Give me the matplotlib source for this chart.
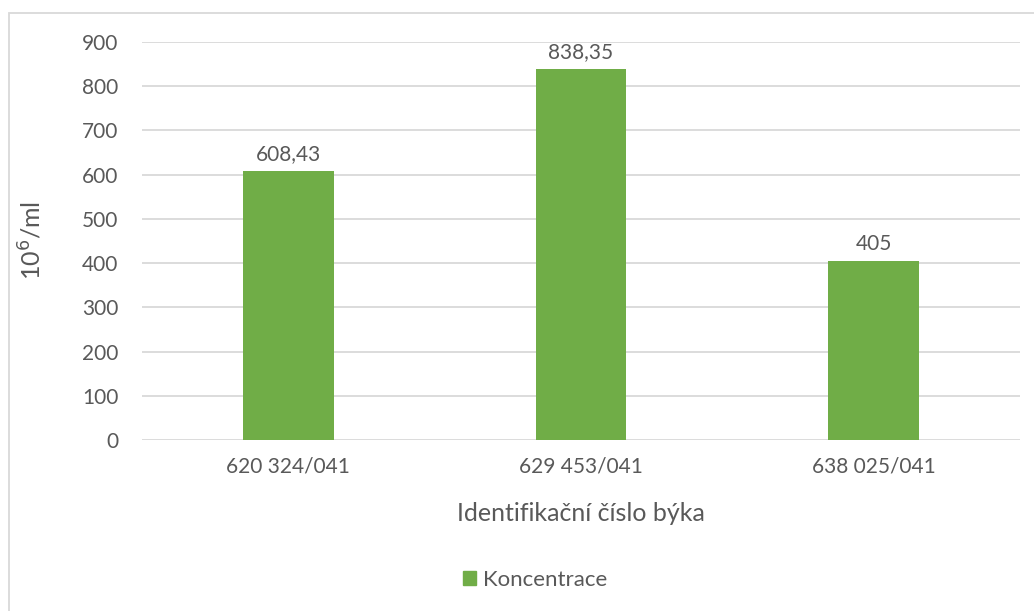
import matplotlib
matplotlib.use('Agg')
import matplotlib.pyplot as plt
from matplotlib.patches import Rectangle, Patch

# data
categories = ['620 324/041', '629 453/041', '638 025/041']
values = [608.43, 838.35, 405]
labels = ['608,43', '838,35', '405']

green = '#70AD47'
text_col = '#595959'
grid_col = '#D9D9D9'

plt.rcParams['font.family'] = ['Lato', 'DejaVu Sans']

fig = plt.figure(figsize=(10.34, 6.11), dpi=100)
ax = fig.add_axes([142/1034, 1 - 440/611, (1020-142)/1034, (440-42)/611])

x = range(len(categories))
ax.bar(x, values, width=0.31, color=green, zorder=3)
for i, v in enumerate(values):
    ax.annotate(labels[i], (i, v), xytext=(0, 5), textcoords='offset points',
                ha='center', va='bottom', fontsize=15, color=text_col)

ax.set_xlim(-0.5, 2.5)
ax.set_ylim(0, 900)
ax.set_yticks(range(0, 901, 100))
ax.set_xticks(list(x))
ax.set_xticklabels(categories)
ax.tick_params(axis='both', length=0, labelsize=15, labelcolor=text_col)
ax.tick_params(axis='y', pad=17)
ax.tick_params(axis='x', pad=12)
ax.grid(axis='y', color=grid_col, linewidth=1.3, zorder=0)
for s in ax.spines.values():
    s.set_visible(False)

ax.set_xlabel('Identifikační číslo býka', fontsize=18, color=text_col, labelpad=18)
fig.text(32/1034, 1 - 240/611, '10$^6$/ml', rotation=90, fontsize=18,
         color=text_col, ha='center', va='center')

fig.legend(handles=[Patch(color=green, label='Koncentrace')], loc='center',
           bbox_to_anchor=(535/1034, 1 - 580/611), frameon=False, fontsize=16,
           handlelength=0.6, handleheight=0.6, handletextpad=0.3,
           labelcolor=text_col)

# chart border
fig.patches.append(Rectangle((9/1034, -0.1), 1.1, 1 - 13/611 + 0.1,
                             transform=fig.transFigure, fill=False,
                             edgecolor=grid_col, linewidth=1.3))

fig.savefig('out.png', dpi=100, facecolor='white')
